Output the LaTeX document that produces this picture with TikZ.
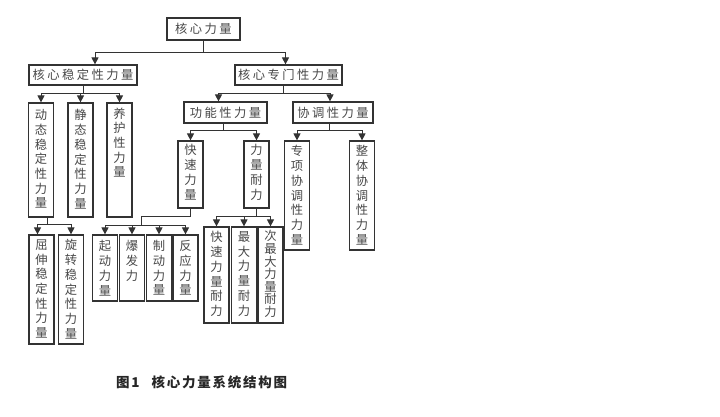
\documentclass[tikz,border=0pt]{standalone}
\usepackage{fontspec}
\usetikzlibrary{arrows.meta}
\newfontfamily\cjk{Noto Sans CJK SC}
\newfontfamily\cjksp{Noto Sans CJK SC}[LetterSpace=20]
\newfontfamily\capfont{Noto Sans CJK SC}[LetterSpace=13]
\definecolor{lc}{HTML}{333333}
\definecolor{tc}{HTML}{484848}
\tikzset{
  box/.style={draw=lc, line width=1.2pt, inner sep=0pt, fill=white},
  hbox/.style={box, font=\cjksp\fontsize{12.3}{14}\selectfont, text=tc},
  vbox/.style={box, minimum width=25pt},
  vtxt/.style={anchor=north, inner sep=0pt, font=\cjk\fontsize{12.3}{14.7}\selectfont, text=tc, align=center},
  conn/.style={draw=lc, line width=0.9pt},
  arr/.style={conn, -{Triangle[width=7pt,length=7pt]}},
}
\begin{document}
\begin{tikzpicture}[x=1pt,y=-1pt]
\useasboundingbox[fill=white] (0,0) rectangle (720,416);
% horizontal boxes
\node[hbox, minimum width=73pt, minimum height=22pt] (root) at (203.5,29) {核心力量};
\node[hbox, minimum width=108pt, minimum height=20pt] (wd) at (83,75) {核心稳定性力量};
\node[hbox, minimum width=107pt, minimum height=20pt] (zm) at (288.5,75) {核心专门性力量};
\node[hbox, minimum width=83pt, minimum height=21pt] (gn) at (225.5,112.5) {功能性力量};
\node[hbox, minimum width=80pt, minimum height=21pt] (xt) at (333,112.5) {协调性力量};
% vertical boxes
\node[vbox, minimum height=114pt] (dt) at (41,160) {};
\node[vtxt] (dtt) at ([yshift=-7pt]dt.north) {动\\态\\稳\\定\\性\\力\\量};
\node[vbox, minimum height=114pt] (jt) at (80.5,160) {};
\node[vtxt] (jtt) at ([yshift=-7pt]jt.north) {静\\态\\稳\\定\\性\\力\\量};
\node[vbox, minimum height=114pt] (yh) at (119.5,160) {};
\node[vtxt] (yht) at ([yshift=-5pt]yh.north) {养\\护\\性\\力\\量};
\node[vbox, minimum height=67pt] (ks) at (190.5,174.5) {};
\node[vtxt] (kst) at ([yshift=-4pt]ks.north) {快\\速\\力\\量};
\node[vbox, minimum height=67pt] (nl) at (256.5,174.5) {};
\node[vtxt] (nlt) at ([yshift=-4pt]nl.north) {力\\量\\耐\\力};
\node[vbox, minimum height=109pt] (zx) at (297,195.5) {};
\node[vtxt] (zxt) at ([yshift=-5pt]zx.north) {专\\项\\协\\调\\性\\力\\量};
\node[vbox, minimum height=109pt] (zt) at (362,195.5) {};
\node[vtxt] (ztt) at ([yshift=-5pt]zt.north) {整\\体\\协\\调\\性\\力\\量};
\node[vbox, minimum height=109pt] (qs) at (41.5,289.5) {};
\node[vtxt] (qst) at ([yshift=-5pt]qs.north) {屈\\伸\\稳\\定\\性\\力\\量};
\node[vbox, minimum height=109pt] (xz) at (71,289.5) {};
\node[vtxt] (xzt) at ([yshift=-5pt]xz.north) {旋\\转\\稳\\定\\性\\力\\量};
\node[vbox, minimum height=66pt] (qd) at (105,268) {};
\node[vtxt] (qdt) at ([yshift=-6pt]qd.north) {起\\动\\力\\量};
\node[vbox, minimum height=66pt] (bf) at (132,268) {};
\node[vtxt] (bft) at ([yshift=-6pt]bf.north) {爆\\发\\力};
\node[vbox, minimum height=66pt] (zd) at (159,268) {};
\node[vtxt] (zdt) at ([yshift=-6pt]zd.north) {制\\动\\力\\量};
\node[vbox, minimum height=66pt] (fy) at (185.5,268) {};
\node[vtxt] (fyt) at ([yshift=-6pt]fy.north) {反\\应\\力\\量};
\node[vbox, minimum height=96pt] (kn) at (216.5,275) {};
\node[vtxt] (knt) at ([yshift=-5pt]kn.north) {快\\速\\力\\量\\耐\\力};
\node[vbox, minimum height=96pt] (zn) at (244,275) {};
\node[vtxt] (znt) at ([yshift=-5pt]zn.north) {最\\大\\力\\量\\耐\\力};
\node[vbox, minimum height=96pt] (cn) at (270.5,275) {};
\node[vtxt, font=\cjk\fontsize{12.3}{12.6}\selectfont] (cnt) at ([yshift=-4pt]cn.north) {次\\最\\大\\力\\量\\耐\\力};
% connectors
\draw[conn] (root.south) -- (root.south |- 0,52);
\draw[arr] (root.south |- 0,52) -| ([xshift=12pt]wd.north);
\draw[arr] (root.south |- 0,52) -| ([xshift=-3pt]zm.north);
\draw[conn] (wd.south) -- (wd.south |- 0,93);
\draw[arr] (wd.south |- 0,93) -| (dt.north);
\draw[arr] (wd.south |- 0,93) -| (jt.north);
\draw[arr] (wd.south |- 0,93) -| (yh.north);
\draw[conn] ([xshift=-5pt]zm.south) -- ([xshift=-5pt]zm.south |- 0,93);
\draw[arr] ([xshift=-5pt]zm.south |- 0,93) -| ([xshift=-7pt]gn.north);
\draw[arr] ([xshift=-5pt]zm.south |- 0,93) -| ([xshift=-3pt]xt.north);
\draw[conn] ([xshift=-2pt]gn.south) -- ([xshift=-2pt]gn.south |- 0,130);
\draw[arr] ([xshift=-2pt]gn.south |- 0,130) -| (ks.north);
\draw[arr] ([xshift=-2pt]gn.south |- 0,130) -| (nl.north);
\draw[conn] ([xshift=-4pt]xt.south) -- ([xshift=-4pt]xt.south |- 0,130);
\draw[arr] ([xshift=-4pt]xt.south |- 0,130) -| (zx.north);
\draw[arr] ([xshift=-4pt]xt.south |- 0,130) -| (zt.north);
\draw[conn] ([xshift=6pt]dt.south) -- ([xshift=6pt]dt.south |- 0,224);
\draw[arr] ([xshift=6pt]dt.south |- 0,224) -| ([xshift=-4pt]qs.north);
\draw[arr] ([xshift=6pt]dt.south |- 0,224) -| (xz.north);
\coordinate (kb) at (141,225);
\draw[conn] (ks.south) -- (ks.south |- 0,216) -| (kb);
\draw[arr] (kb) -| (qd.north);
\draw[arr] (kb) -| (bf.north);
\draw[arr] (kb) -| (zd.north);
\draw[arr] (kb) -| (fy.north);
\draw[conn] (nl.south) -- (nl.south |- 0,216);
\draw[arr] (nl.south |- 0,216) -| (kn.north);
\draw[arr] (nl.south |- 0,216) -| (zn.north);
\draw[arr] (nl.south |- 0,216) -| (cn.north);
% caption
\node[anchor=west, inner sep=0pt, font=\capfont\bfseries\fontsize{13.5}{13.5}\selectfont, text=black!85] (cap) at (116,382.5) {图1\hspace{12pt}核心力量系统结构图};
\end{tikzpicture}
\end{document}
